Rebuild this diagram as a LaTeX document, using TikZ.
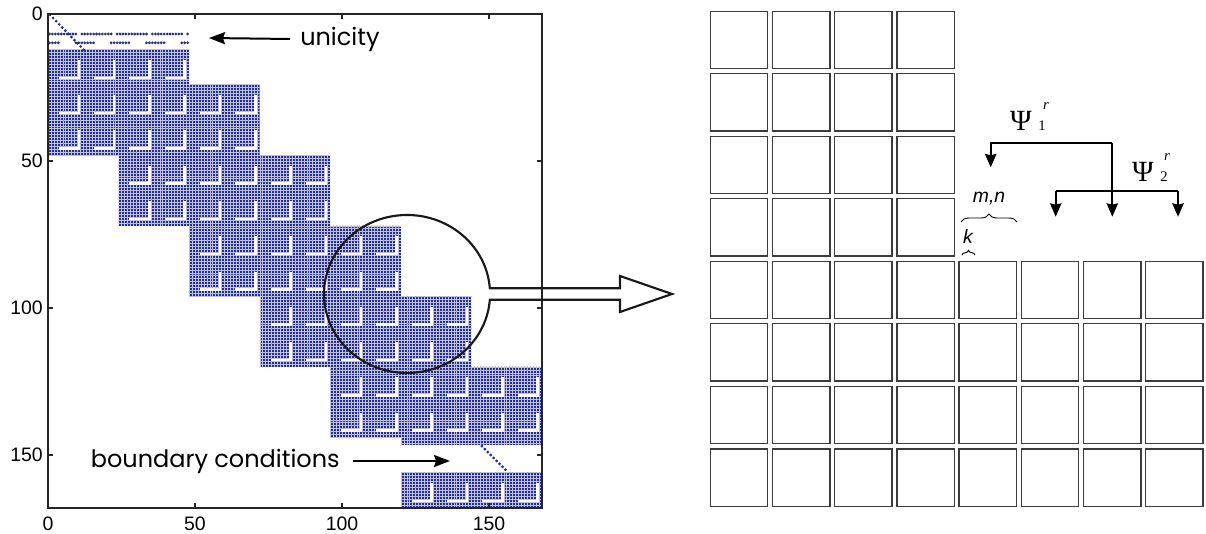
\documentclass[tikz,border=0pt]{standalone}
\usepackage{fontspec}
\setmainfont{Liberation Serif}
\newfontfamily\arialf{Liberation Sans}
\newfontfamily\gothf{Poppins}
\usetikzlibrary{arrows.meta,decorations.pathreplacing,calc}
\definecolor{spyblue}{RGB}{36,46,146}
\definecolor{sqline}{RGB}{60,60,60}
\newcommand\spyblock[4]{%
  \begin{scope}
    \clip (#1,#2) rectangle (#3,#4);
    \fill[spyblue] (#1,#2) rectangle (#3,#4);
    \draw[gridw] foreach \cc in {0,...,168}{(\cc,0) -- (\cc,168)};
    \draw[gridw] foreach \rr in {0,...,168}{(0,\rr) -- (168,\rr)};
    \draw[hook] foreach \ii in {0,...,13}{foreach \jj in {0,...,13}{({12*\ii+3.7},{12*\jj+9.7}) -- ({12*\ii+10.5},{12*\jj+9.7}) -- ({12*\ii+10.5},{12*\jj+3.6})}};
  \end{scope}}
\begin{document}
\begin{tikzpicture}[x=0.75pt,y=-0.75pt,
  ticklab/.style={font=\arialf\fontsize{14.6}{16}\selectfont, inner sep=0pt},
  annot/.style={font=\gothf\fontsize{18}{20}\selectfont, inner sep=0pt},
  arr/.style={line width=1.5pt, -{Stealth[length=12pt,width=9pt,inset=1.5pt]}},
  parr/.style={line width=1.6pt, -{Stealth[length=10pt,width=8.5pt,inset=1pt]}},
  sqbox/.style={draw=sqline, line width=1pt, minimum size=43pt, inner sep=0pt},
  hook/.style={white, line width=1.9pt},
  gridw/.style={white!70!spyblue, line width=0.25pt},
  axisline/.style={line width=0.9pt, black!85},
  lens/.style={line width=1.6pt, black!90},
  psi/.style={font=\fontsize{22}{24}\selectfont, inner sep=0pt},
  psisub/.style={font=\fontsize{11}{12}\selectfont, inner sep=0pt},
  psisup/.style={font=\itshape\fontsize{11}{12}\selectfont, inner sep=0pt},
  lab/.style={font=\arialf\itshape\fontsize{14.5}{16}\selectfont, inner sep=0pt},
  brc/.style={decorate, decoration={brace, amplitude=#1}, line width=0.7pt},
  dotm/.style={fill=spyblue}
]
\useasboundingbox (0,0) rectangle (1206,534);

% ---------- spy plot ----------
\begin{scope}[shift={(48,14)}, x=2.205pt, y=-2.205pt]
  \spyblock{0}{12}{48}{48}
  \spyblock{24}{24}{72}{72}
  \spyblock{48}{48}{96}{96}
  \spyblock{72}{72}{120}{120}
  \spyblock{96}{96}{144}{144}
  \spyblock{120}{120}{168}{146.5}
  \spyblock{120}{156}{168}{168}
  % diagonal (top)
  \foreach \k in {1,...,12}{\fill[dotm] ({\k*1.04-0.35},{\k*1.08-0.8}) circle[radius=1.15pt];}
  % unicity rows
  \foreach \cc in {1,...,48}{%
    \pgfmathtruncatemacro\mm{mod(\cc,12)}%
    \ifnum\mm=11\else\fill[dotm] (\cc-0.5,6.8) circle[radius=1.15pt];\fi
    \pgfmathtruncatemacro\keep{or(\mm>9,\mm<5)}%
    \ifnum\keep=1\fill[dotm] (\cc-0.5,9.8) circle[radius=1.15pt];\fi}
  % boundary diagonal
  \foreach \k in {0,...,8}{\fill[dotm] (\k+147.6,\k+147) circle[radius=1.15pt];}
  % axes
  \draw[axisline] (0,0) rectangle (168,168);
  \foreach \v in {50,100,150}{
    \draw[axisline] (\v,168) -- (\v,166.3);
    \draw[axisline] (\v,0) -- (\v,1.7);
    \draw[axisline] (0,\v) -- (1.7,\v);
    \draw[axisline] (168,\v) -- (166.3,\v);}
\end{scope}

% tick labels
\node[ticklab] (xt0) at (48,524) {0};
\node[ticklab] (xt50) at (195,524) {50};
\node[ticklab] (xt100) at (342,524) {100};
\node[ticklab] (xt150) at (489,524) {150};
\node[ticklab, anchor=east] (yt0) at (43,14) {0};
\node[ticklab, anchor=east] (yt50) at (43,161) {50};
\node[ticklab, anchor=east] (yt100) at (43,308) {100};
\node[ticklab, anchor=east] (yt150) at (43,455) {150};

% annotations
\node[annot, anchor=west] (unicity) at (300,39) {unicity};
\coordinate (uni-tip) at (209,38);
\draw[arr] ([xshift=-7.5pt]unicity.west) -- (uni-tip);
\node[annot, anchor=east] (boundary) at (340,461) {boundary conditions};
\coordinate (bc-tip) at (450,461);
\draw[arr] ([xshift=10pt]boundary.east) -- (bc-tip);

% lens with block arrow
\draw[lens] (620,288.2) -- (489.8,288.2)
  arc[start angle=-4.2, end angle=-355.8, x radius=83, y radius=79]
  -- (620,299.8) -- (620,312) -- (672,294) -- (620,276) -- cycle;

% ---------- grid of squares ----------
\foreach \i in {0,...,7}{
  \foreach \j in {0,...,7}{
    \pgfmathtruncatemacro\show{or(\j>3,\i<4)}
    \ifnum\show=1
      \node[sqbox] (sq-\i-\j) at ({739+62.2*\i},{40+62.5*\j}) {};
    \fi}}

% psi arrows
\coordinate (t-l) at (990.7,142.7);
\coordinate (t-r) at (1112.3,142.7);
\coordinate (t-ltip) at (990.7,167.3);
\coordinate (t-rtip) at (1112.3,216.7);
\coordinate (m-l) at (1055.7,190.7);
\coordinate (m-r) at (1178,190.7);
\coordinate (m-ltip) at (1055.7,216.7);
\coordinate (m-rtip) at (1178,216.7);
\draw[parr] (t-r) -- (t-l) -- (t-ltip);
\draw[parr] (t-r) -- (t-rtip);
\draw[line width=1.6pt] (m-l) -- (m-r);
\draw[parr] (m-l) -- (m-ltip);
\draw[parr] (m-r) -- (m-rtip);

\node[psi] (psi1) at (1021,121) {Ψ};
\node[psisub] (psi1s) at (1042,126) {1};
\node[psisup] (psi1r) at (1046,106) {r};
\node[psi] (psi2) at (1143,172) {Ψ};
\node[psisub] (psi2s) at (1164,177) {2};
\node[psisup] (psi2r) at (1167,157) {r};

\node[lab, anchor=base] (mn) at (989,203) {m,n};
\draw[brc=6pt] (961,222) -- (1017,222);
\node[lab, anchor=base] (k) at (968,244) {k};
\draw[brc=3.5pt] (962,255) -- (975,255);
\end{tikzpicture}
\end{document}
